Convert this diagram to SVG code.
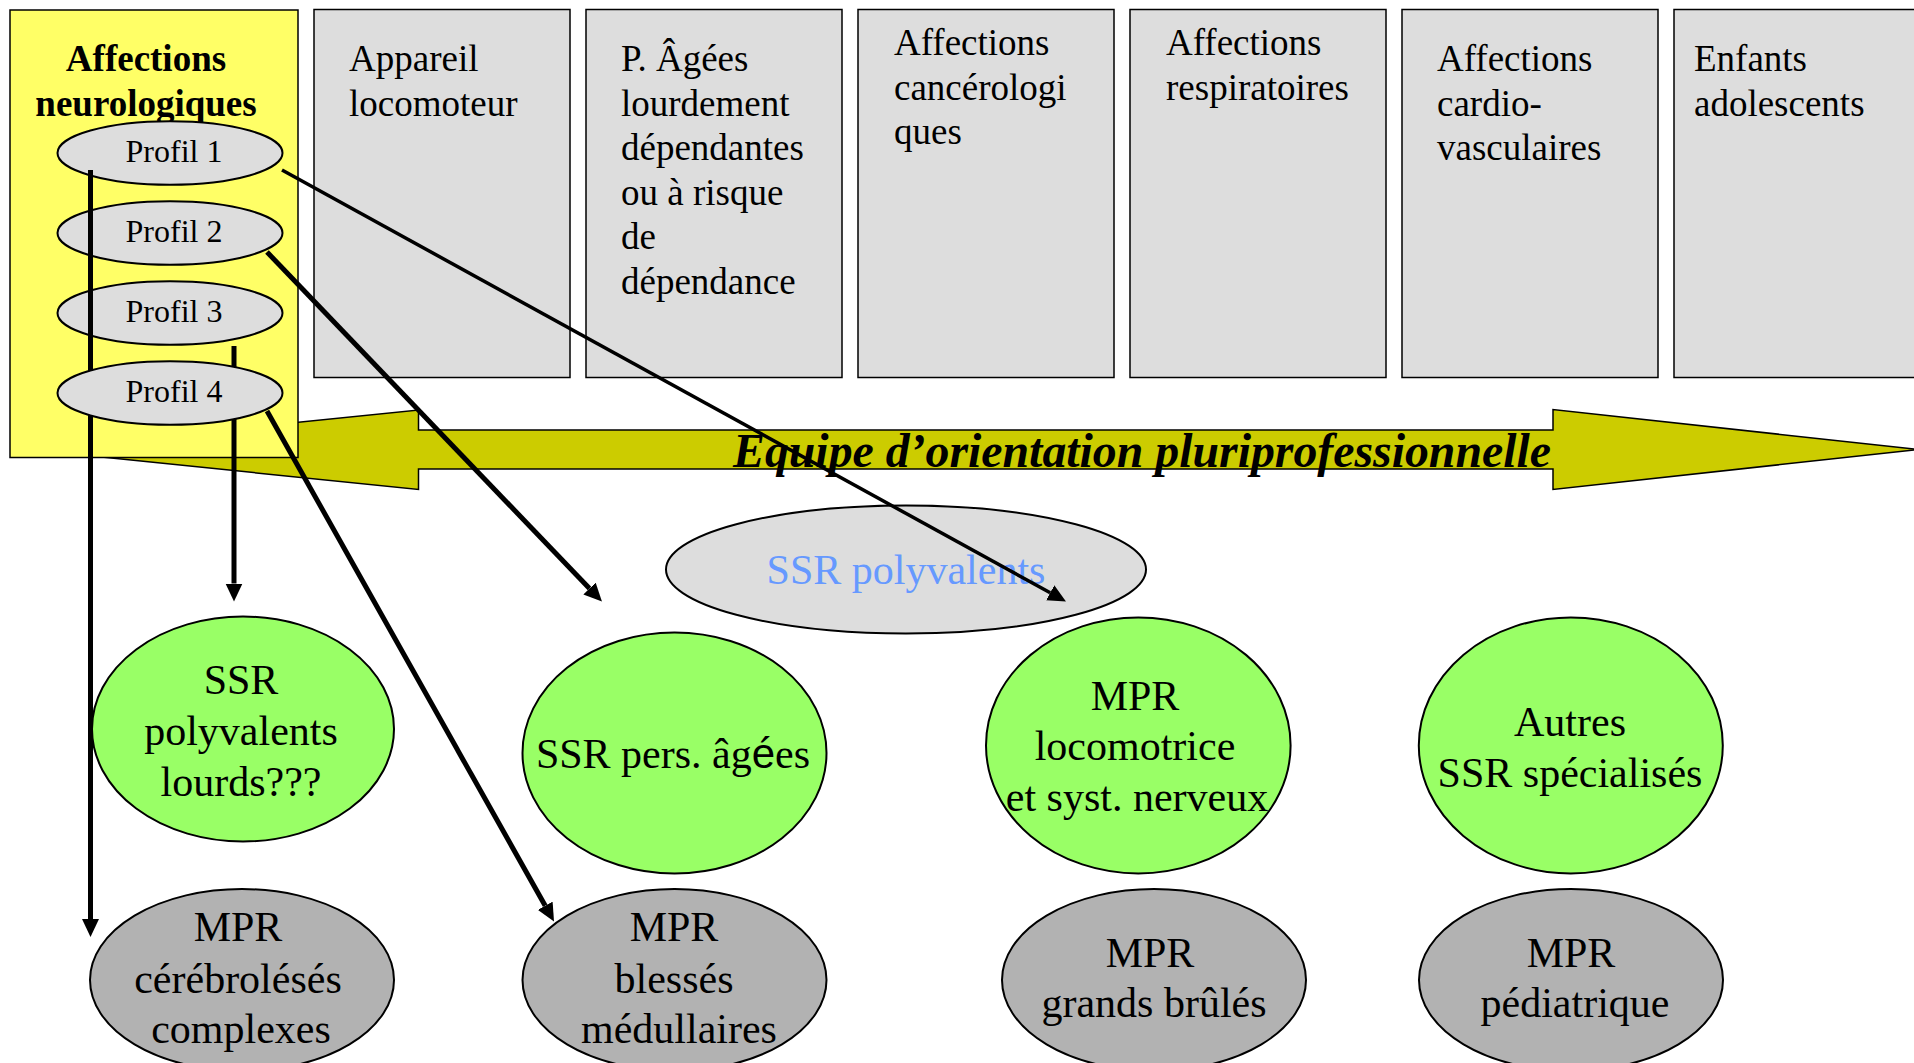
<svg xmlns="http://www.w3.org/2000/svg" width="1914" height="1063" viewBox="0 0 1914 1063">
  <defs>
    <style>
      .serif { font-family: "Liberation Serif", "Times New Roman", serif; fill: #000; }
      .box { fill: #DDDDDD; stroke: #000; stroke-width: 1.5; }
      .hdr { font-size: 37px; }
      .prof { fill: #DDDDDD; stroke: #000; stroke-width: 2; }
      .ptxt { font-size: 32px; text-anchor: middle; }
      .green { fill: #99FF66; stroke: #000; stroke-width: 2; }
      .grey { fill: #B2B2B2; stroke: #000; stroke-width: 2; }
      .lbl { font-size: 42px; text-anchor: middle; }
      .link { stroke: #000; stroke-width: 5; fill: none; marker-end: url(#head); }
      .thin { stroke-width: 3.5; }
    </style>
    <marker id="head" viewBox="0 -9 18 18" markerWidth="18" markerHeight="18" refX="0" refY="0" orient="auto" markerUnits="userSpaceOnUse">
      <path d="M0,-8.5 L18,0 L0,8.5 Z" fill="#000"/>
    </marker>
  </defs>

  <rect width="1914" height="1063" fill="#FFFFFF"/>

  <!-- wide double-headed band across the page -->
  <g id="equipe-orientation">
    <polygon points="28,449.5 418.5,410 418.5,430 1553,430 1553,409.5 1918,449.5 1553,489.5 1553,469 418.5,469 418.5,489.5" fill="#CCCC00" stroke="#000" stroke-width="1.5"/>
    <text class="serif" x="733" y="467" font-size="48" font-weight="bold" font-style="italic" textLength="818" lengthAdjust="spacingAndGlyphs">Equipe d’orientation pluriprofessionnelle</text>
  </g>

  <!-- category columns -->
  <g id="col-locomoteur">
    <rect class="box" x="314" y="9.5" width="256" height="368"/>
    <text class="serif hdr" x="349" y="71">Appareil</text>
    <text class="serif hdr" x="349" y="115.5">locomoteur</text>
  </g>
  <g id="col-agees">
    <rect class="box" x="586" y="9.5" width="256" height="368"/>
    <text class="serif hdr" x="621" y="71">P. Âgées</text>
    <text class="serif hdr" x="621" y="115.5">lourdement</text>
    <text class="serif hdr" x="621" y="160">dépendantes</text>
    <text class="serif hdr" x="621" y="204.5">ou à risque</text>
    <text class="serif hdr" x="621" y="249">de</text>
    <text class="serif hdr" x="621" y="293.5">dépendance</text>
  </g>
  <g id="col-cancero">
    <rect class="box" x="858" y="9.5" width="256" height="368"/>
    <text class="serif hdr" x="894" y="55">Affections</text>
    <text class="serif hdr" x="894" y="99.5">cancérologi</text>
    <text class="serif hdr" x="894" y="144">ques</text>
  </g>
  <g id="col-respiratoires">
    <rect class="box" x="1130" y="9.5" width="256" height="368"/>
    <text class="serif hdr" x="1166" y="55">Affections</text>
    <text class="serif hdr" x="1166" y="99.5">respiratoires</text>
  </g>
  <g id="col-cardio">
    <rect class="box" x="1402" y="9.5" width="256" height="368"/>
    <text class="serif hdr" x="1437" y="71">Affections</text>
    <text class="serif hdr" x="1437" y="115.5">cardio-</text>
    <text class="serif hdr" x="1437" y="160">vasculaires</text>
  </g>
  <g id="col-enfants">
    <rect class="box" x="1674" y="9.5" width="256" height="368"/>
    <text class="serif hdr" x="1694" y="71">Enfants</text>
    <text class="serif hdr" x="1694" y="115.5">adolescents</text>
  </g>

  <!-- neurological column with its profiles -->
  <g id="col-neuro">
    <rect x="10" y="10" width="288" height="447.5" fill="#FFFF66" stroke="#000" stroke-width="1.5"/>
    <text class="serif hdr" x="146" y="71" font-weight="bold" text-anchor="middle">Affections</text>
    <text class="serif hdr" x="146" y="115.5" font-weight="bold" text-anchor="middle">neurologiques</text>
  </g>
  <g id="profil-1">
    <ellipse class="prof" cx="170" cy="153" rx="112.5" ry="31.7"/>
    <text class="serif ptxt" x="174" y="162.3">Profil 1</text>
  </g>
  <g id="profil-2">
    <ellipse class="prof" cx="170" cy="233" rx="112.5" ry="31.7"/>
    <text class="serif ptxt" x="174" y="242.3">Profil 2</text>
  </g>
  <g id="profil-3">
    <ellipse class="prof" cx="170" cy="313" rx="112.5" ry="31.7"/>
    <text class="serif ptxt" x="174" y="322.3">Profil 3</text>
  </g>

  <!-- care structures -->
  <g id="ssr-polyvalents">
    <ellipse cx="906" cy="569.5" rx="240" ry="64" fill="#DDDDDD" stroke="#000" stroke-width="2"/>
    <text class="serif lbl" x="906" y="584" style="fill:#6699FF">SSR polyvalents</text>
  </g>
  <g id="ssr-polyvalents-lourds">
    <ellipse class="green" cx="243" cy="729" rx="151" ry="112.5"/>
    <text class="serif lbl" x="241" y="694">SSR</text>
    <text class="serif lbl" x="241" y="745">polyvalents</text>
    <text class="serif lbl" x="241" y="796">lourds???</text>
  </g>
  <g id="ssr-pers-agees">
    <ellipse class="green" cx="674.5" cy="753" rx="152" ry="120.5"/>
    <text class="serif lbl" x="673" y="768">SSR pers. âg<tspan font-family="Liberation Sans, Arial, sans-serif">é</tspan>es</text>
  </g>
  <g id="mpr-locomotrice">
    <ellipse class="green" cx="1138.3" cy="745.4" rx="152.3" ry="128"/>
    <text class="serif lbl" x="1135" y="709.5">MPR</text>
    <text class="serif lbl" x="1135" y="760">locomotrice</text>
    <text class="serif lbl" x="1137" y="811">et syst. nerveux</text>
  </g>
  <g id="autres-ssr">
    <ellipse class="green" cx="1570.8" cy="745.4" rx="152" ry="128"/>
    <text class="serif lbl" x="1570" y="735.5">Autres</text>
    <text class="serif lbl" x="1570" y="786.5">SSR spécialisés</text>
  </g>
  <g id="mpr-cerebroleses">
    <ellipse class="grey" cx="242" cy="980" rx="152" ry="91"/>
    <text class="serif lbl" x="238" y="941">MPR</text>
    <text class="serif lbl" x="238" y="993">cérébrolésés</text>
    <text class="serif lbl" x="241" y="1043">complexes</text>
  </g>
  <g id="mpr-medullaires">
    <ellipse class="grey" cx="674.5" cy="980" rx="152" ry="91"/>
    <text class="serif lbl" x="674" y="941">MPR</text>
    <text class="serif lbl" x="674" y="993">blessés</text>
    <text class="serif lbl" x="679" y="1043">médullaires</text>
  </g>
  <g id="mpr-brules">
    <ellipse class="grey" cx="1154" cy="980" rx="152" ry="91"/>
    <text class="serif lbl" x="1150" y="967">MPR</text>
    <text class="serif lbl" x="1154" y="1017">grands brûlés</text>
  </g>
  <g id="mpr-pediatrique">
    <ellipse class="grey" cx="1571" cy="980" rx="152" ry="91"/>
    <text class="serif lbl" x="1571" y="967">MPR</text>
    <text class="serif lbl" x="1575" y="1017">pédiatrique</text>
  </g>

  <!-- orientation arrows from each profile -->
  <g id="connectors">
    <path class="link" d="M90.5,170 L90.5,919"/>
    <path class="link" d="M234,346 L234,583.5"/>
    <path class="link" d="M267,411 L545.2,905.8"/>
    <path class="link" d="M267,252 L589.5,588.5"/>
    <path class="link thin" d="M282,170 L1050.2,592.8"/>
  </g>

  <!-- profile 4 sits above the vertical links -->
  <g id="profil-4">
    <ellipse class="prof" cx="170" cy="393" rx="112.5" ry="31.7"/>
    <text class="serif ptxt" x="174" y="402.3">Profil 4</text>
  </g>
</svg>
